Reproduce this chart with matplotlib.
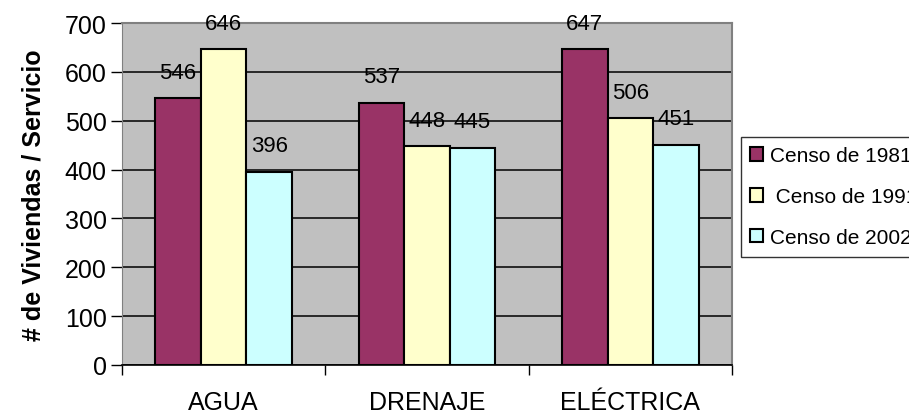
import matplotlib.pyplot as plt
import numpy as np

plt.rcParams['font.family'] = ['Liberation Sans', 'DejaVu Sans']

servicios = ['AGUA', 'DRENAJE', 'ELÉCTRICA']
censo_1981 = [546, 537, 647]
censo_1991 = [646, 448, 506]
censo_2002 = [396, 445, 451]
etiquetas = ['Censo de 1981', ' Censo de 1991', 'Censo de 2002']
colores = ['#993366', '#FFFFCC', '#CCFFFF']

fig = plt.figure(figsize=(9.09, 4.14), dpi=100)
ax = fig.add_axes([122 / 909, 48 / 414, 610 / 909, 342 / 414])
ax.set_facecolor('#C0C0C0')

x = np.arange(len(servicios))
width = 0.224
series = [censo_1981, censo_1991, censo_2002]
for k, (vals, col, lab) in enumerate(zip(series, colores, etiquetas)):
    bars = ax.bar(x + (k - 1) * width, vals, width, color=col,
                  edgecolor='black', linewidth=1.5, label=lab, zorder=3)
    ax.bar_label(bars, padding=11, fontsize=16)

ax.set_xlim(-0.5, 2.5)
ax.set_ylim(0, 700)
ax.set_yticks(range(0, 701, 100))
ax.yaxis.grid(True, color='black', linewidth=1.1, zorder=0)
ax.tick_params(axis='y', labelsize=18, length=8, width=1, pad=3)

# category labels centered, tick marks at the group boundaries
ax.set_xticks(x)
ax.set_xticklabels(servicios, fontsize=18)
ax.tick_params(axis='x', which='major', length=0, pad=18)
ax.set_xticks([-0.5, 0.5, 1.5, 2.5], minor=True)
ax.tick_params(axis='x', which='minor', length=7, width=1)

for side in ['top', 'right']:
    ax.spines[side].set_color('#808080')
    ax.spines[side].set_linewidth(1.5)
ax.spines['left'].set_color('#808080')
ax.spines['bottom'].set_color('black')
ax.spines['bottom'].set_linewidth(1.2)

ax.set_ylabel('# de Viviendas / Servicio', fontsize=18, fontweight='bold', labelpad=14)

leg = fig.legend(loc='upper left', bbox_to_anchor=(741 / 909, 1 - 138 / 414),
                 fontsize=15, frameon=True, fancybox=False, edgecolor='black',
                 handlelength=0.6, handleheight=0.6, handletextpad=0.35,
                 labelspacing=1.05, borderpad=0.45, borderaxespad=0)
leg.get_frame().set_linewidth(1)

fig.savefig('out.png', dpi=100)
